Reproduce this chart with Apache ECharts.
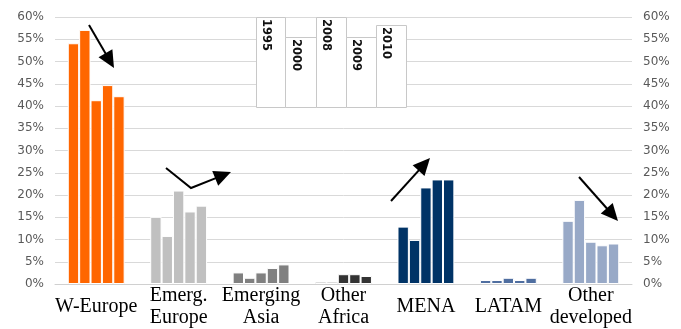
<!DOCTYPE html>
<html>
<head>
<meta charset="utf-8">
<script src="https://cdn.jsdelivr.net/npm/echarts@6/dist/echarts.min.js"></script>
<style>
html,body{margin:0;padding:0;background:#fff;}
#chart{width:681px;height:329px;}
</style>
</head>
<body>
<div id="chart"></div>
<script>
// ---- data ----
var categories = ['W-Europe', 'Emerg.\nEurope', 'Emerging\nAsia', 'Other\nAfrica', 'MENA', 'LATAM', 'Other\ndeveloped'];
var years = ['1995', '2000', '2008', '2009', '2010'];
var v1995 = [54.1, 15.1, 2.6, 0.5, 12.9, 0.9, 14.2];
var v2000 = [57.1, 10.8, 1.4, 0.5, 9.9, 0.9, 18.9];
var v2008 = [41.3, 21.0, 2.6, 2.2, 21.7, 1.4, 9.5];
var v2009 = [44.7, 16.3, 3.6, 2.2, 23.5, 0.9, 8.7];
var v2010 = [42.2, 17.6, 4.4, 1.8, 23.5, 1.4, 9.1];
var yTicks = {min: 0, max: 60, step: 5};

// ---- styles ----
var categoryColors = ['#FF6600', '#C0C0C0', '#808080', '#333333', '#003366', '#4F6EA0', '#98A9C7'];
var seriesValues = [v1995, v2000, v2008, v2009, v2010];

var chart = echarts.init(document.getElementById('chart'));

var yAxisCommon = {
  type: 'value', min: yTicks.min, max: yTicks.max, interval: yTicks.step,
  axisLine: {show: false}, axisTick: {show: false},
  axisLabel: {formatter: '{value}%', color: '#595959', fontFamily: 'DejaVu Sans', fontSize: 12, margin: 11},
  splitLine: {lineStyle: {color: '#d9d9d9', width: 1}}
};

var series = years.map(function (y, i) {
  return {
    name: y, type: 'bar', barGap: 0, barCategoryGap: '31%',
    data: seriesValues[i],
    itemStyle: {
      color: function (p) { return categoryColors[p.dataIndex]; },
      borderColor: '#ffffff', borderWidth: 1
    },
    silent: true
  };
});

// legend-like boxes (annotation), years from the data array
var boxes = [
  {x: 256, top: 17, w: 29},
  {x: 285, top: 37, w: 31},
  {x: 316, top: 17, w: 30},
  {x: 346, top: 37, w: 30},
  {x: 376, top: 25, w: 30}
];
var boxBottom = 107;
var graphics = [];
boxes.forEach(function (b, i) {
  graphics.push({
    type: 'rect', shape: {x: b.x + 0.5, y: b.top + 0.5, width: b.w, height: boxBottom - b.top},
    style: {fill: '#ffffff', stroke: '#c8c8c8', lineWidth: 1}, z: 10
  });
  graphics.push({
    type: 'text', x: b.x + b.w / 2 - 5, y: b.top + 2, rotation: -Math.PI / 2,
    style: {text: years[i], fill: '#111', font: 'bold 11.5px "DejaVu Sans"', align: 'left', verticalAlign: 'middle'},
    z: 11
  });
});

// arrows (annotations)
function arrow(points) {
  var n = points.length;
  var tip = points[n - 1], prev = points[n - 2];
  var dx = tip[0] - prev[0], dy = tip[1] - prev[1];
  var len = Math.sqrt(dx * dx + dy * dy);
  var ux = dx / len, uy = dy / len;
  var hl = 17, hw = 8;
  var bx = tip[0] - ux * hl, by = tip[1] - uy * hl;
  var linePts = points.slice(0, n - 1).concat([[bx + ux * 2, by + uy * 2]]);
  graphics.push({type: 'polyline', shape: {points: linePts}, style: {stroke: '#000', lineWidth: 2, fill: null}, z: 12});
  graphics.push({type: 'polygon', shape: {points: [tip, [bx - uy * hw, by + ux * hw], [bx + uy * hw, by - ux * hw]]}, style: {fill: '#000'}, z: 12});
}
arrow([[89, 25], [114, 68]]);
arrow([[166, 168], [191, 188], [231, 172]]);
arrow([[391, 201], [430, 158]]);
arrow([[579, 177], [618, 221]]);

chart.setOption({
  animation: false,
  backgroundColor: '#ffffff',
  grid: {left: 55, right: 49, top: 17, bottom: 45, containLabel: false},
  xAxis: {
    type: 'category', data: categories,
    axisLine: {lineStyle: {color: '#d0d0d0'}},
    axisTick: {show: false},
    axisLabel: {color: '#000', fontFamily: 'Liberation Serif', fontSize: 20, lineHeight: 22, margin: 23, verticalAlign: 'middle', interval: 0}
  },
  yAxis: [
    Object.assign({}, yAxisCommon, {position: 'left'}),
    Object.assign({}, yAxisCommon, {position: 'right', splitLine: {show: false}})
  ],
  series: series,
  graphic: graphics
});
</script>
</body>
</html>
